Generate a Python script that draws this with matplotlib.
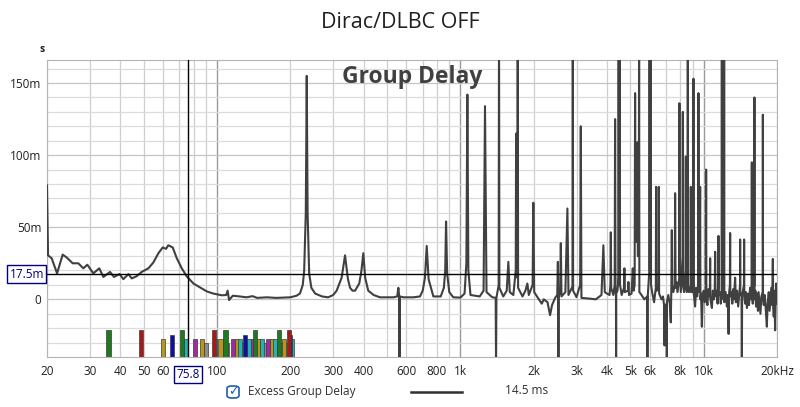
import matplotlib
matplotlib.use("Agg")
import matplotlib.pyplot as plt
import numpy as np
from matplotlib.patches import FancyBboxPatch
from matplotlib.lines import Line2D

plt.rcParams['font.family'] = ['Open Sans', 'DejaVu Sans']

# group delay trace as (Hz, ms) pairs, split by region
trace_low = [(20.0, 79), (20.2, 30.5), (20.9, 28.5), (22.0, 18), (23.2, 31), (24.1, 29), (25.5, 25),
             (26.9, 25), (28.2, 21.5), (29.3, 24), (31.0, 18), (32.8, 21.5), (34.1, 15.5), (36.3, 19),
             (37.7, 15.5), (39.7, 17.5), (41.2, 14), (43.2, 17.5), (44.6, 14.5), (46.7, 16), (49.0, 19),
             (52.2, 21.5), (54.7, 25.5), (57.4, 32), (59.8, 36), (61.7, 35), (63.0, 37.5), (65.7, 36),
             (68.3, 28.5), (71.6, 21.5), (75.0, 16), (79.9, 11), (85.1, 8.3), (90.7, 5.5), (96.5, 4),
             (104.5, 2.8), (109, 3), (110.5, 6), (112, -0.5), (116, 2.5), (124, 2), (132, 1.4),
             (140, 2.2), (146, 1.0), (160, 1.4), (175, 1.0)]

trace_mid = [(200, 1.4), (212, 2.5), (219, 4), (225, 10), (228, 20), (231.5, 60), (233.6, 155),
             (235.5, 60), (239, 18), (244, 8), (253, 4), (270, 2), (286, 1.4), (300, 3), (310, 6),
             (325, 15), (335.6, 30.5), (345, 14), (352, 8), (360, 6), (369, 6), (384, 11), (392, 20),
             (399, 32), (406, 15), (418, 6), (440, 3), (467, 1.4), (530, 1.4), (550, 2), (556, 8),
             (560, 2), (562, -45), (564, 2), (583, 1.4), (640, 1.4), (682, 2), (700, 6), (715, 15),
             (727, 37), (740, 14), (774, 2), (830, 2), (855, 8), (866, 20), (873, 54), (882, 18),
             (900, 5), (935, 1.4), (1000, 1.2), (1040, 4), (1058, 25), (1068, 142), (1078, 20),
             (1100, 3), (1200, 2), (1245, 6), (1262, 134), (1280, 5), (1350, 1.5), (1396, 1),
             (1401, -45), (1406, 1), (1436, 10), (1441, 200), (1446, 8), (1500, 2), (1550, 6),
             (1574, 26), (1595, 5), (1650, 3), (1688, 20), (1694, 115), (1700, 20), (1714, 15),
             (1720, 200), (1726, 8), (1800, 2), (1850, 6), (1884, 11), (1910, 3), (1980, 10),
             (1994, 67), (2010, 5), (2100, 0), (2160, -3), (2200, 0), (2280, -2), (2336, -11),
             (2380, -4), (2450, 1), (2500, 3), (2515, 26), (2522, 3), (2528, -45), (2534, 2),
             (2570, 5), (2586, 39), (2602, 2), (2700, 5), (2752, 63), (2780, 3), (2870, 8),
             (2887, 8), (2896, 200), (2905, 6), (3000, 1.5), (3105, 10), (3124, 120), (3143, 1),
             (3400, 0.5), (3600, 0), (3800, 3), (3868, 37.5), (3920, 5)]

trace_high = [(4000, 4), (4100, 3), (4135, 10), (4150, 46.5), (4165, 8), (4250, 3), (4305, 10),
              (4322, 125), (4340, 5), (4358, 3), (4363, -45), (4368, 4), (4420, 6), (4462, 15),
              (4470, 200), (4478, 10), (4512, 10), (4520, 200), (4528, 10), (4600, 3), (4700, 8),
              (4720, 21.5), (4740, 5), (4880, 6), (4902, 12), (4930, 3), (5050, 4), (5110, 21.5),
              (5150, 6), (5200, 10), (5222, 143), (5245, 40), (5320, 40), (5338, 109), (5360, 30),
              (5410, 30), (5424, 200), (5438, 5), (5550, 3), (5700, 0), (5860, 2), (5868, -45),
              (5876, 0), (5975, 20), (5990, 200), (6005, 20), (6045, 20), (6058, 200), (6071, 10),
              (6150, 4), (6250, -2), (6355, 8), (6370, 78), (6390, 6), (6450, 10), (6520, 6),
              (6536, 78), (6555, 4), (6700, 0), (6800, 2), (6880, -5), (6900, -32), (6920, -5),
              (6938, -12.5), (6990, -5), (7045, -3), (7050, -45), (7058, -2), (7150, 3), (7250, -3),
              (7320, -16), (7360, 8), (7392, 48), (7420, 10), (7500, 5), (7600, 10), (7626, 73.6),
              (7660, 8), (7720, 12), (7800, 5), (7930, 15), (7944, 136), (7960, 20), (8050, 5),
              (8190, 30), (8204, 130), (8220, 10), (8300, 5), (8420, 20), (8440, 99), (8460, 8),
              (8520, 5), (8585, 10), (8600, 200), (8615, 8), (8700, 5), (8830, 10), (8848, 78),
              (8870, 5), (8950, 10), (9050, 5), (9070, 153), (9090, 5), (9150, 0), (9216, -5),
              (9300, 8), (9400, 2), (9495, 10), (9510, 143), (9525, 5), (9600, 6), (9666, 78),
              (9690, 0), (9750, 4), (9822, -19), (9900, 3), (10000, 6), (10100, -2), (10200, 6),
              (10228, 90), (10250, 3), (10350, -4), (10450, 7), (10500, 2), (10600, 8), (10624, 28.5),
              (10650, 0), (10800, -6), (10900, 6), (11000, 0), (11100, 8), (11138, 33), (11180, 2),
              (11300, 6), (11400, -3), (11470, 8), (11492, 44), (11520, 3), (11650, 5), (11750, -3),
              (11850, 5), (11868, 200), (11886, 5), (11950, 8), (12050, 0), (12110, 3), (12128, 200),
              (12146, -2), (12300, 5), (12450, -5), (12550, 3), (12650, -24), (12720, 5), (12810, 10),
              (12836, 46), (12860, 2), (13000, 5), (13100, -3), (13200, 7), (13300, 0), (13458, 15),
              (13550, -2), (13700, 6), (13850, -5), (14000, 4), (14100, 10), (14110, 41.5),
              (14130, 5), (14300, 2), (14340, -45), (14380, 3), (14630, 10), (14654, 41.5),
              (14680, 2), (14800, -3), (14900, 5), (15050, -6), (15200, 4), (15350, -4), (15500, 8),
              (15650, 0), (15740, 10), (15760, 95), (15780, 5), (15900, -3), (16000, 5), (16140, 10),
              (16154, 140), (16170, 0), (16300, 6), (16400, -5), (16550, 4), (16700, -8), (16800, 5),
              (16950, -3), (17100, -10), (17250, 2), (17470, 5), (17496, 128), (17520, 0),
              (17650, -4), (17800, 3), (17950, -5), (18170, -19), (18300, -3), (18500, 5),
              (18650, -8), (18800, 0), (18950, 8), (19100, -4), (19228, 28), (19300, -5),
              (19400, -12), (19500, 6), (19648, -21.5), (19750, 0), (19850, 11), (19950, -3),
              (20000, 5)]

# room mode markers along the bottom: frequency, top of marker (ms), colour key
mode_freq = [35.8, 48.5, 60.1, 65.4, 71.9, 74.7, 81.2, 86.9, 89.9, 97.0, 98.4, 103.3, 108.3, 109.4,
             116.3, 118, 120.4, 124.3, 126, 127.2, 130.6, 133, 135.3, 139.6, 141, 143.6, 147.8, 150,
             152.6, 157.4, 162.4, 165, 167.7, 173.1, 176, 179.7, 185, 188.9, 194, 197.0, 199.4, 202.7]
mode_top = [-21.5, -21.5, -27.8, -25, -21.5, -27.8, -27.8, -27.8, -30.5, -21.5, -27.8, -27.8, -21.5, -30.5,
            -27.8, -30.5, -27.8, -27.8, -30.5, -30.5, -25, -30.5, -27.8, -27.8, -30.5, -21.5, -27.8, -30.5,
            -27.8, -30.5, -27.8, -30.5, -27.8, -27.8, -30.5, -21.5, -30.5, -27.8, -30.5, -21.5, -25, -27.8]
mode_kind = ['g', 'r', 'y', 'b', 'g', 'c', 'm', 'y', 'k', 'r', 'c', 'y', 'g', 'k',
             'm', 'k', 'y', 'c', 'k', 'k', 'b', 'k', 'c', 'm', 'k', 'g', 'y', 'k',
             'c', 'k', 'm', 'k', 'y', 'c', 'k', 'g', 'k', 'y', 'k', 'r', 'b', 'c']
mode_colors = {'g': '#1e7a1e', 'r': '#a81818', 'y': '#b8961a', 'b': '#1010a0',
               'c': '#22b4b4', 'm': '#a428a4', 'k': '#8c8c8c'}

xticks = [20, 30, 40, 50, 60, 100, 200, 300, 400, 600, 800, 1000, 2000, 3000, 4000, 5000,
          6000, 8000, 10000, 20000]
xlabels = ['20', '30', '40', '50', '60', '100', '200', '300', '400', '600', '800', '1k', '2k',
           '3k', '4k', '5k', '6k', '8k', '10k', '20kHz']
yticks = [0, 50, 100, 150]
ylabels = ['0', '50m', '100m', '150m']

cursor_f = 75.8
cursor_d = 17.5

trace = trace_low + trace_mid + trace_high
freq = [p[0] for p in trace]
delay = [p[1] for p in trace]

fig = plt.figure(figsize=(8, 4.07), dpi=100)
ax = fig.add_axes([47 / 800, 50 / 407, 730 / 800, 297 / 407])
ax.set_xscale('log')
ax.set_xlim(20, 20000)
ax.set_ylim(-40, 166)

# grid
minor_x = [m * 10 ** e for e in range(1, 5) for m in range(1, 10) if 20 <= m * 10 ** e <= 20000]
for f in minor_x:
    major = f in (100, 1000, 10000)
    ax.axvline(f, color='#9a9a9a' if major else '#cfcfcf', lw=1.0 if major else 0.9, zorder=0)
for v in range(-30, 170, 10):
    ax.axhline(v, color='#c4c4c4' if v % 50 == 0 else '#dcdcdc', lw=0.9, zorder=0)

# mode markers, tall ones behind
hw = 0.0085
order = np.argsort(mode_top)
for i in order:
    f = mode_freq[i]
    left = f * 10 ** (-hw)
    ax.bar(left, mode_top[i] + 40, width=f * 10 ** hw - left, bottom=-40, align='edge',
           color=mode_colors[mode_kind[i]], edgecolor='#3a3a3a', linewidth=0.5, zorder=2)

ax.plot(freq, delay, color='#404040', lw=1.5, zorder=3)

# cursor
ax.axvline(cursor_f, color='black', lw=1.0, zorder=4)
ax.axhline(cursor_d, color='black', lw=1.0, zorder=4)

ax.set_xticks(xticks)
ax.set_xticklabels(xlabels)
ax.xaxis.set_minor_locator(matplotlib.ticker.NullLocator())
ax.set_yticks(yticks)
ax.set_yticklabels(ylabels)
ax.tick_params(axis='both', length=0, labelsize=8.5, colors='#202020')
ax.tick_params(axis='x', pad=6)
ax.tick_params(axis='y', pad=4)
for s in ax.spines.values():
    s.set_color('#b4b4b4')

# cursor readouts
ax.text(-0.004, cursor_d, '17.5m', transform=ax.get_yaxis_transform(), ha='right', va='center',
        fontsize=8.5, color='#000080',
        bbox=dict(boxstyle='square,pad=0.18', fc='white', ec='#000080', lw=1.0))
ax.text(cursor_f, -0.06, '75.8', transform=ax.get_xaxis_transform(), ha='center', va='center',
        fontsize=8.5, color='#000080',
        bbox=dict(boxstyle='square,pad=0.18', fc='white', ec='#000080', lw=1.0))

ax.text(0.5, 0.942, 'Group Delay', transform=ax.transAxes, ha='center', va='center',
        fontsize=16.5, fontweight='bold', color='#404040', zorder=5)

fig.text(0.5, 1 - 22 / 407, 'Dirac/DLBC OFF', ha='center', va='center', fontsize=15.5, color='#202020')
fig.text(42 / 800, 1 - 50 / 407, 's', ha='center', va='center', fontsize=7.5, color='#202020',
         fontweight='bold')

# legend row
cb = FancyBboxPatch((227 / 800, 1 - 398 / 407), 12 / 800, 12 / 407,
                    boxstyle='round,pad=0,rounding_size=0.006', transform=fig.transFigure,
                    fc='white', ec='#1c5fb0', lw=1.2)
fig.patches.append(cb)
fig.text(233 / 800, 1 - 392 / 407, '\u2713', ha='center', va='center', fontsize=9,
         color='#1c5fb0', family=['DejaVu Sans'])
fig.text(248 / 800, 1 - 391 / 407, 'Excess Group Delay', ha='left', va='center', fontsize=8.5,
         color='#303030')
fig.lines.append(Line2D([411 / 800, 462 / 800], [1 - 392 / 407, 1 - 392 / 407],
                        transform=fig.transFigure, color='#303030', lw=1.8))
fig.text(505 / 800, 1 - 391 / 407, '14.5 ms', ha='left', va='center', fontsize=8.5, color='#303030')

fig.savefig('out.png', dpi=100)
